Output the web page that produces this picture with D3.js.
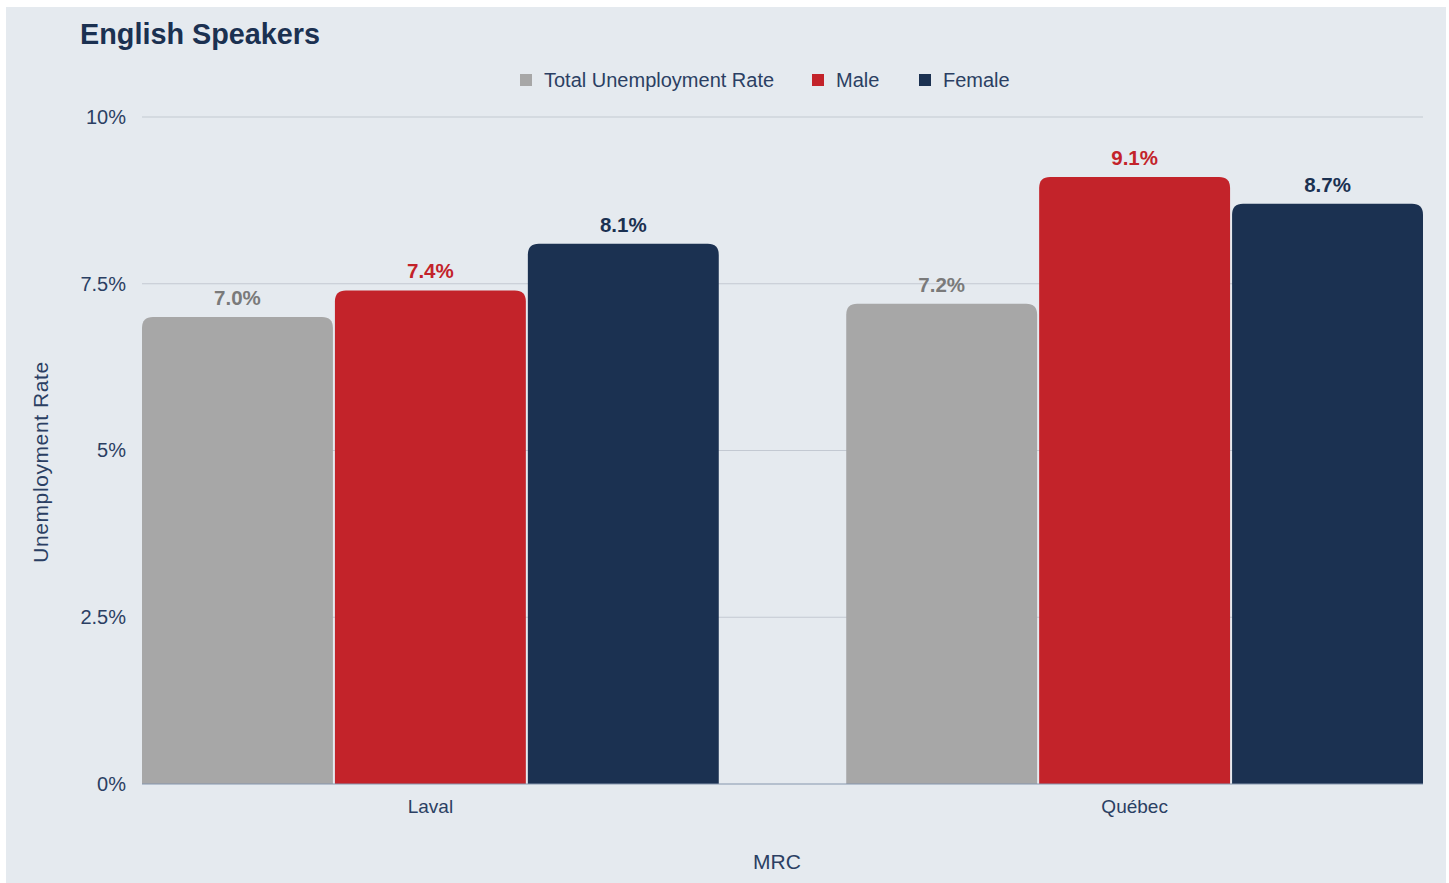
<!DOCTYPE html>
<html>
<head>
<meta charset="utf-8">
<script src="https://cdn.jsdelivr.net/npm/d3@7"></script>
<style>
  html, body { margin: 0; padding: 0; background: #ffffff; }
  svg { display: block; }
  text { font-family: "Liberation Sans", Arial, Helvetica, sans-serif; }
</style>
</head>
<body>
<svg id="chart" width="1449" height="883"></svg>
<script>
// Unemployment rate of English speakers by MRC, split by sex
const categories = ["Laval", "Québec"];
const seriesNames = ["Total Unemployment Rate", "Male", "Female"];
const totalValues = [7.0, 7.2];
const maleValues = [7.4, 9.1];
const femaleValues = [8.1, 8.7];
const yTicks = [0, 2.5, 5, 7.5, 10];
const yTickLabels = ["0%", "2.5%", "5%", "7.5%", "10%"];

const barColors = ["#a7a7a7", "#c3232a", "#1b3151"];
const labelColors = ["#7a7a7a", "#c3232a", "#1b3151"];
const textColor = "#2b3f63";

const seriesValues = [totalValues, maleValues, femaleValues];
const rows = categories.map((c, i) => ({
  category: c,
  values: seriesNames.map((s, j) => ({ series: s, idx: j, value: seriesValues[j][i] }))
}));

const svg = d3.select("#chart");

// panel background
svg.append("rect").attr("x", 6).attr("y", 7).attr("width", 1440).attr("height", 876)
  .attr("fill", "#e5eaef");

const plot = { left: 142, right: 1423, top: 117, bottom: 784 };

const x0 = d3.scaleBand().domain(categories)
  .range([plot.left, plot.right]).paddingInner(0.181).paddingOuter(0);
const x1 = d3.scaleBand().domain(seriesNames)
  .range([0, x0.bandwidth()]).paddingInner(0.0104).paddingOuter(0);
const y = d3.scaleLinear().domain([0, 10]).range([plot.bottom, plot.top]);

// gridlines
svg.append("g").selectAll("line").data(yTicks.filter(t => t > 0)).join("line")
  .attr("x1", plot.left).attr("x2", plot.right)
  .attr("y1", d => y(d)).attr("y2", d => y(d))
  .attr("stroke", "#c3c9d2").attr("stroke-width", 1.2);

// y tick labels
const yAxis = d3.axisLeft(y).tickValues(yTicks)
  .tickFormat((d, i) => yTickLabels[i]).tickSize(0).tickPadding(16);
const gy = svg.append("g").attr("transform", `translate(${plot.left},0)`).call(yAxis);
gy.select(".domain").remove();
gy.selectAll("text").attr("font-size", 20).attr("fill", textColor)
  .style("font-family", "'Liberation Sans', Arial, sans-serif");

// bars with rounded top corners
function barPath(x, yTop, w, yBase, r) {
  const rr = Math.min(r, w / 2, (yBase - yTop));
  return `M${x},${yBase}V${yTop + rr}Q${x},${yTop} ${x + rr},${yTop}` +
    `H${x + w - rr}Q${x + w},${yTop} ${x + w},${yTop + rr}V${yBase}Z`;
}

const groups = svg.append("g").selectAll("g").data(rows).join("g")
  .attr("transform", d => `translate(${x0(d.category)},0)`);

groups.selectAll("path").data(d => d.values).join("path")
  .attr("d", d => barPath(x1(d.series), y(d.value), x1.bandwidth(), y(0), 11))
  .attr("fill", d => barColors[d.idx]);

groups.selectAll("text.val").data(d => d.values).join("text")
  .attr("class", "val")
  .attr("x", d => x1(d.series) + x1.bandwidth() / 2)
  .attr("y", d => y(d.value) - 12)
  .attr("text-anchor", "middle")
  .attr("font-size", 20.5).attr("font-weight", "bold")
  .attr("fill", d => labelColors[d.idx])
  .text(d => d.value.toFixed(1) + "%");

// baseline
svg.append("line").attr("x1", plot.left).attr("x2", plot.right)
  .attr("y1", y(0)).attr("y2", y(0))
  .attr("stroke", "#8596ad").attr("stroke-width", 1.2);

// category labels
const xAxis = d3.axisBottom(x0).tickSize(0).tickPadding(16);
const gx = svg.append("g").attr("transform", `translate(0,${plot.bottom})`).call(xAxis);
gx.select(".domain").remove();
gx.selectAll("text").attr("font-size", 19).attr("fill", textColor)
  .style("font-family", "'Liberation Sans', Arial, sans-serif");

// axis titles
svg.append("text").attr("x", 777).attr("y", 869).attr("text-anchor", "middle")
  .attr("font-size", 21).attr("fill", textColor).text("MRC");
svg.append("text").attr("transform", "translate(48,462) rotate(-90)")
  .attr("text-anchor", "middle").attr("font-size", 21).attr("fill", textColor)
  .attr("letter-spacing", 0.6)
  .text("Unemployment Rate");

// title
svg.append("text").attr("x", 80).attr("y", 44)
  .attr("font-size", 28.8).attr("font-weight", "bold").attr("fill", "#1b3151")
  .text("English Speakers");

// legend
const legendItems = [
  { name: seriesNames[0], x: 520 },
  { name: seriesNames[1], x: 812 },
  { name: seriesNames[2], x: 919 }
];
const lg = svg.append("g").selectAll("g").data(legendItems).join("g")
  .attr("transform", d => `translate(${d.x},74)`);
lg.append("rect").attr("width", 12).attr("height", 12)
  .attr("fill", (d, i) => barColors[i]);
lg.append("text").attr("x", 24).attr("y", 13).attr("font-size", 20)
  .attr("fill", textColor).text(d => d.name);
</script>
</body>
</html>
